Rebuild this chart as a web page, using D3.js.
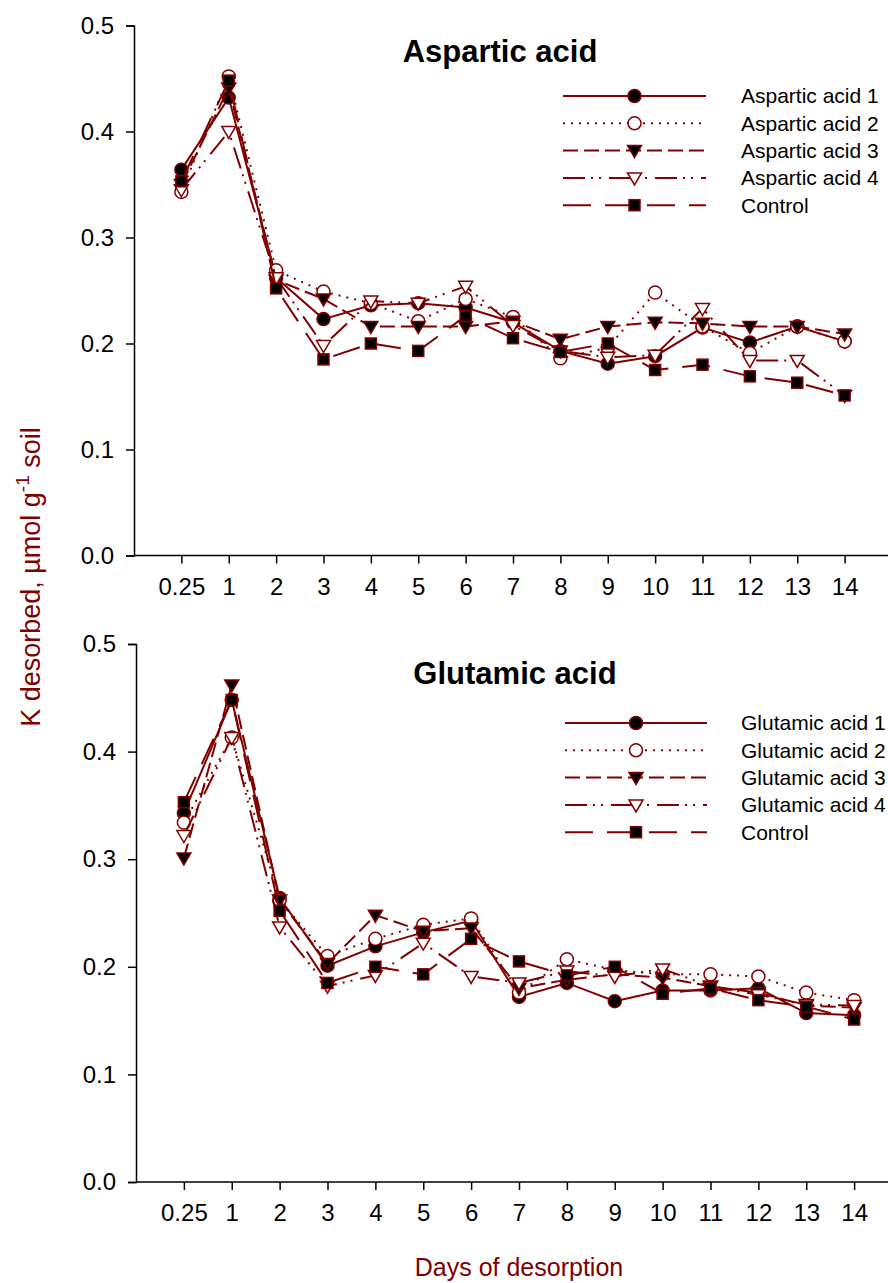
<!DOCTYPE html>
<html>
<head>
<meta charset="utf-8">
<script src="https://cdn.jsdelivr.net/npm/d3@7"></script>
<style>
  html, body { margin: 0; padding: 0; background: #fff; }
  svg { display: block; font-family: "Liberation Sans", Arial, sans-serif; }
</style>
</head>
<body>
<svg id="chart" width="888" height="1283"></svg>
<script>
// Days of desorption (categorical axis)
const days = ["0.25", "1", "2", "3", "4", "5", "6", "7", "8", "9", "10", "11", "12", "13", "14"];
const yTicks = [0, 0.1, 0.2, 0.3, 0.4, 0.5];

// K desorbed (µmol g-1 soil) — aspartic acid treatments
const aspartic1 = [0.364, 0.432, 0.262, 0.223, 0.236, 0.238, 0.234, 0.220, 0.193, 0.181, 0.188, 0.215, 0.201, 0.216, 0.202];
const aspartic2 = [0.343, 0.452, 0.269, 0.249, 0.238, 0.221, 0.242, 0.225, 0.186, 0.196, 0.248, 0.216, 0.191, 0.216, 0.202];
const aspartic3 = [0.350, 0.441, 0.260, 0.242, 0.216, 0.216, 0.216, 0.221, 0.204, 0.216, 0.220, 0.219, 0.216, 0.216, 0.209];
const aspartic4 = [0.345, 0.400, 0.262, 0.198, 0.240, 0.238, 0.254, 0.217, 0.193, 0.187, 0.189, 0.233, 0.184, 0.184, 0.151];

// K desorbed — glutamic acid treatments
const glutamic1 = [0.343, 0.448, 0.264, 0.201, 0.219, 0.232, 0.243, 0.172, 0.185, 0.168, 0.178, 0.178, 0.180, 0.157, 0.155];
const glutamic2 = [0.334, 0.413, 0.262, 0.210, 0.226, 0.239, 0.245, 0.176, 0.207, 0.197, 0.193, 0.193, 0.191, 0.176, 0.169];
const glutamic3 = [0.301, 0.462, 0.262, 0.203, 0.248, 0.233, 0.236, 0.180, 0.188, 0.193, 0.190, 0.182, 0.176, 0.164, 0.162];
const glutamic4 = [0.322, 0.413, 0.237, 0.182, 0.192, 0.222, 0.191, 0.185, 0.196, 0.191, 0.198, 0.182, 0.174, 0.165, 0.164];

// Untreated control (shared by both panels)
const control = [0.353, 0.448, 0.252, 0.185, 0.200, 0.193, 0.226, 0.205, 0.192, 0.200, 0.175, 0.180, 0.169, 0.163, 0.151];

const asparticNames = ["Aspartic acid 1", "Aspartic acid 2", "Aspartic acid 3", "Aspartic acid 4", "Control"];
const glutamicNames = ["Glutamic acid 1", "Glutamic acid 2", "Glutamic acid 3", "Glutamic acid 4", "Control"];

const RED = "#800000";

// line style + marker for each series slot
const styles = [
  { dash: null,                 shape: "circle",   fill: "#000" },
  { dash: "2,6",                shape: "circle",   fill: "#fff" },
  { dash: "15,6",               shape: "triangle", fill: "#000" },
  { dash: "22,6,2,6,2,8",       shape: "triangle", fill: "#fff" },
  { dash: "28,14",              shape: "square",   fill: "#000" }
];

const panels = [
  { title: "Aspartic acid", titleX: 500, titleY: 62, names: asparticNames,
    series: [aspartic1, aspartic2, aspartic3, aspartic4, control],
    xRange: [134, 892], yRange: [555.5, 25.5], axisX: 134,
    legendY: 96, legendLine: [563, 706], legendText: 741 },
  { title: "Glutamic acid", titleX: 515, titleY: 684, names: glutamicNames,
    series: [glutamic1, glutamic2, glutamic3, glutamic4, control],
    xRange: [136, 902], yRange: [1182, 644], axisX: 136,
    legendY: 723, legendLine: [565, 707], legendText: 741 }
];

const svg = d3.select("#chart");

function drawMarker(g, shape, fill, x, y) {
  if (shape === "circle") {
    g.append("circle").attr("cx", x).attr("cy", y).attr("r", 6.5)
      .attr("fill", fill).attr("stroke", RED).attr("stroke-width", 1.5);
  } else if (shape === "square") {
    g.append("rect").attr("x", x - 5.5).attr("y", y - 5.5).attr("width", 11).attr("height", 11)
      .attr("fill", fill).attr("stroke", RED).attr("stroke-width", 1.5);
  } else {
    g.append("path")
      .attr("d", `M${x - 7},${y - 5}L${x + 7},${y - 5}L${x},${y + 7}Z`)
      .attr("fill", fill).attr("stroke", RED).attr("stroke-width", 1.5);
  }
}

panels.forEach(p => {
  const x = d3.scalePoint().domain(days).range(p.xRange).padding(1);
  const y = d3.scaleLinear().domain([0, 0.5]).range(p.yRange);
  const g = svg.append("g");

  // y axis
  g.append("g")
    .attr("transform", `translate(${p.axisX},0)`)
    .call(d3.axisLeft(y).tickValues(yTicks).tickFormat(d3.format(".1f")).tickSizeOuter(0).tickSize(8).tickPadding(12))
    .call(a => a.select(".domain").attr("stroke", "#000").attr("stroke-width", 1.5))
    .call(a => a.selectAll(".tick line").attr("stroke", "#000").attr("stroke-width", 1.5))
    .call(a => a.selectAll(".tick text").attr("fill", "#000").attr("font-size", 24)
      .attr("font-family", "Liberation Sans, Arial, sans-serif"));

  // x axis
  g.append("g")
    .attr("transform", `translate(0,${p.yRange[0]})`)
    .call(d3.axisBottom(x).tickSizeOuter(0).tickSize(8).tickPadding(14))
    .call(a => a.select(".domain").attr("d", `M${p.axisX},0H888`).attr("stroke", "#000").attr("stroke-width", 1.5))
    .call(a => a.selectAll(".tick line").attr("stroke", "#000").attr("stroke-width", 1.5))
    .call(a => a.selectAll(".tick text").attr("fill", "#000").attr("font-size", 24)
      .attr("font-family", "Liberation Sans, Arial, sans-serif"));

  // panel title
  g.append("text").attr("x", p.titleX).attr("y", p.titleY)
    .attr("text-anchor", "middle").attr("font-weight", "bold").attr("font-size", 31)
    .text(p.title);

  // series lines and markers
  const line = d3.line().x((d, i) => x(days[i])).y(d => y(d));
  p.series.forEach((vals, si) => {
    const st = styles[si];
    const sg = g.append("g");
    sg.append("path").datum(vals).attr("d", line)
      .attr("fill", "none").attr("stroke", RED).attr("stroke-width", 2)
      .attr("stroke-dasharray", st.dash);
    vals.forEach((v, i) => drawMarker(sg, st.shape, st.fill, x(days[i]), y(v)));
  });

  // legend
  const lg = g.append("g");
  p.names.forEach((name, si) => {
    const st = styles[si];
    const ly = p.legendY + si * 27.3;
    lg.append("line").attr("x1", p.legendLine[0]).attr("x2", p.legendLine[1])
      .attr("y1", ly).attr("y2", ly).attr("stroke", RED).attr("stroke-width", 2)
      .attr("stroke-dasharray", st.dash);
    drawMarker(lg, st.shape, st.fill, (p.legendLine[0] + p.legendLine[1]) / 2, ly);
    lg.append("text").attr("x", p.legendText).attr("y", ly).attr("dy", "0.35em")
      .attr("font-size", 21).attr("fill", "#000").text(name);
  });
});

// axis titles
svg.append("text")
  .attr("transform", "translate(40,577) rotate(-90)")
  .attr("text-anchor", "middle").attr("fill", RED).attr("font-size", 27)
  .call(t => {
    t.append("tspan").text("K desorbed, µmol g");
    t.append("tspan").attr("font-size", 19).attr("dy", -11).text("-1");
    t.append("tspan").attr("dy", 11).text(" soil");
  });

svg.append("text")
  .attr("x", 519).attr("y", 1276)
  .attr("text-anchor", "middle").attr("fill", RED).attr("font-size", 25)
  .text("Days of desorption");
</script>
</body>
</html>
